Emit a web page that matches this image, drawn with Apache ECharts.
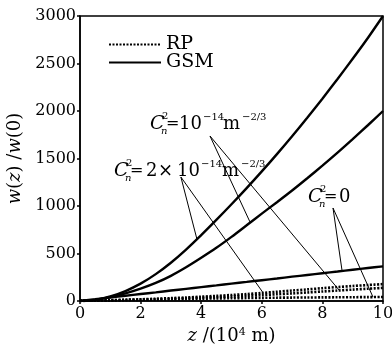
<!DOCTYPE html>
<html><head><meta charset="utf-8">
<script src="https://cdn.jsdelivr.net/npm/echarts@6/dist/echarts.min.js"></script>
<style>html,body{margin:0;padding:0;background:#fff}#c{width:392px;height:348px}</style>
</head><body><div id="c"></div>
<script>
// propagation distance z (10^4 m)
const Z = [0,0.5,1,1.5,2,2.5,3,3.5,4,4.5,5,5.5,6,6.5,7,7.5,8,8.5,9,9.5,10];
// GSM beam, w(z)/w(0)
const GSM_CN2_2E14 = [1,12,48,105,183,283,403,541,693,853,1018,1188,1364,1546,1734,1929,2130,2337,2550,2769,3000];
const GSM_CN2_1E14 = [1,10,40,80,130,190,265,355,455,560,675,797,920,1040,1163,1292,1425,1562,1704,1850,2000];
const GSM_CN2_0    = [1,18,37,55,73,91,110,128,146,164,183,201,219,237,256,274,292,310,329,347,365];
// RP beam, w(z)/w(0)
const RP_CN2_2E14 = [1,4,8,13,18,24,30,37,45,54,63,73,84,97,110,122,135,147,158,168,178];
const RP_CN2_1E14 = [1,4,7,11,15,19,24,29,35,41,48,55,62,71,80,90,100,110,120,129,138];
const RP_CN2_0    = [1,3,6,9,12,15,18,21,24,27,29,31,33,35,36,37,38,39,40,41,42];
// legend entries
const LEGEND = ['RP','GSM'];

const FONT = '"DejaVu Serif", serif';
const pairs = v => Z.map((z,i)=>[z, v[i]]);

// annotation leader lines (data coordinates)
const leaders = [
  [[3.33,1305],[3.86,650]],
  [[3.33,1305],[6.04,88]],
  [[4.29,1737],[5.61,832]],
  [[4.29,1737],[8.55,115]],
  [[8.35,979],[8.65,316]],
  [[8.35,979],[9.67,41]]
];

const chart = echarts.init(document.getElementById('c'), null, {renderer:'canvas'});
const gsmStyle = {color:'#000', width:2.4, type:'solid'};
const rpStyle = {color:'#000', width:2.6, type:[2,1.5]};
function line(name, v, st, extra){
  return Object.assign({name, type:'line', data:pairs(v), symbol:'none', showSymbol:false,
    smooth:0.3, lineStyle:st, itemStyle:{color:'#000'}, silent:true, z:3}, extra||{});
}

// label pieces placed at pixel x, relative y offset to line centre
function piece(x, yc, t, fs, it, dy){
  return {type:'text', x:x, y:yc+(dy||0), silent:true, z:100,
    style:{text:t, fontSize:fs, fontFamily:FONT, fontStyle:it?'italic':'normal',
      fill:'#000', textAlign:'left', verticalAlign:'middle'}};
}
function cn(x, yc){
  return [piece(x, yc, 'C', 19, true, 0), piece(x+12, yc, '2', 10, false, -8), piece(x+11, yc, 'n', 10, true, 7)];
}
const labels = [].concat(
  cn(150,124), [piece(166,124,'=',16), piece(179,124,'10',18), piece(203,124,'\u221214',10,false,-7),
    piece(223,124,'m',18), piece(242,124,'\u22122/3',10,false,-7)],
  cn(114,171), [piece(130,171,'=',16), piece(146,171,'2',18), piece(158,171,'\u00d7',18),
    piece(177,171,'10',18), piece(201,171,'\u221214',10,false,-7),
    piece(222,171,'m',18), piece(241,171,'\u22122/3',10,false,-7)],
  cn(308,197), [piece(324,197,'=',16), piece(339,197,'0',18)]
);

const option = {
  animation:false,
  backgroundColor:'#fff',
  grid:{left:80, right:9, top:16, bottom:47, show:true, borderColor:'#000', borderWidth:1.5,
    backgroundColor:'transparent', outerBoundsMode:'none', containLabel:false},
  legend:{orient:'vertical', left:108, top:35, padding:0, itemWidth:52, itemHeight:14, itemGap:-1,
    data:LEGEND, selectedMode:false, itemStyle:{opacity:0, borderWidth:0},
    textStyle:{fontFamily:FONT, fontSize:19, color:'#000'}},
  xAxis:{type:'value', min:0, max:10, interval:2,
    axisLine:{show:true, lineStyle:{color:'#000', width:1.5}},
    axisTick:{show:true, inside:false, length:3, lineStyle:{color:'#000', width:1.5}},
    splitLine:{show:false},
    axisLabel:{fontFamily:FONT, fontSize:16, color:'#000', margin:5},
    name:'{i|z} /(10{s|4} m)', nameLocation:'middle', nameGap:12,
    nameTextStyle:{fontFamily:FONT, fontSize:18, color:'#000', lineHeight:18,
      rich:{i:{fontFamily:FONT, fontSize:18, fontStyle:'italic', color:'#000', lineHeight:18},
            s:{fontFamily:FONT, fontSize:11, color:'#000', verticalAlign:'top', lineHeight:11}}}},
  yAxis:{type:'value', min:0, max:3000, interval:500,
    axisLine:{show:true, lineStyle:{color:'#000', width:1.5}},
    axisTick:{show:true, inside:false, length:3, lineStyle:{color:'#000', width:1.5}},
    splitLine:{show:false},
    axisLabel:{fontFamily:FONT, fontSize:16, color:'#000', margin:4, formatter:v=>String(v)},
    name:'{i|w}({i|z}) /{i|w}(0)', nameLocation:'middle', nameGap:32, nameRotate:90,
    nameTextStyle:{fontFamily:FONT, fontSize:18, color:'#000',
      rich:{i:{fontFamily:FONT, fontSize:18, fontStyle:'italic', color:'#000'}}}},
  series:[
    line('RP', RP_CN2_2E14, rpStyle),
    line('RP', RP_CN2_1E14, rpStyle),
    line('RP', RP_CN2_0, rpStyle),
    line('GSM', GSM_CN2_2E14, gsmStyle),
    line('GSM', GSM_CN2_1E14, gsmStyle),
    line('GSM', GSM_CN2_0, gsmStyle, {markLine:{silent:true, symbol:['none','none'], animation:false,
      lineStyle:{color:'#000', width:1, type:'solid'}, label:{show:false}, emphasis:{disabled:true},
      data: leaders.map(([a,b])=>[{coord:a},{coord:b}])}})
  ],
  graphic: labels
};
chart.setOption(option);
</script>
</body></html>
